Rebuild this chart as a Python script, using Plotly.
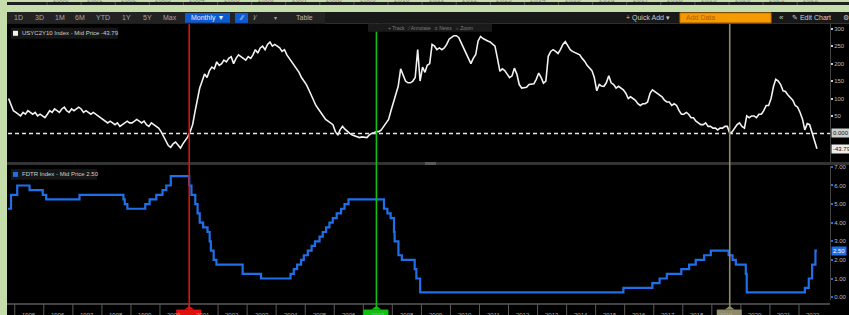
import plotly.graph_objects as go
import pandas as pd

# ------------------------------------------------------------------ data
# USYC2Y10 Index (2s10s curve, bps), monthly from Oct 1994 to Aug 2022
yc_start = "1994-10-01"
yc_bps = [
    100, 80, 65,                                                   # 1994 (Oct-Dec)
    60, 55, 50, 60, 55, 65, 60, 55, 60, 50, 55, 50,                # 1995
    45, 55, 65, 60, 70, 65, 60, 70, 75, 65, 60, 70,                # 1996
    65, 70, 75, 70, 60, 65, 60, 55, 60, 55, 50, 45,                # 1997
    40, 35, 30, 35, 30, 25, 30, 20, 25, 30, 35, 30,                # 1998
    30, 35, 40, 35, 30, 35, 25, 20, 30, 25, 20, 15,                # 1999
    5, -10, -20, -35, -40, -30, -25, -35, -42, -30, -20, -10,      # 2000
    5, 25, 60, 100, 130, 150, 170, 160, 180, 190, 185, 205,        # 2001
    195, 200, 210, 205, 215, 220, 200, 215, 225, 220, 215, 210,    # 2002
    220, 215, 225, 240, 230, 245, 250, 240, 255, 262, 250, 255,    # 2003
    250, 245, 235, 240, 225, 215, 205, 195, 185, 175, 160, 150,    # 2004
    140, 125, 110, 95, 80, 70, 60, 50, 40, 35, 30, 25,             # 2005
    5, -5, 10, 20, 12, 5, 0, -5, -8, -10, -12, -10,                # 2006
    -10, -12, -5, 0, 2, 5, 5, 10, 20, 30, 40, 65,                  # 2007
    90, 110, 135, 185, 165, 150, 145, 145, 150, 160, 240, 150,     # 2008
    190, 175, 195, 200, 255, 250, 240, 245, 240, 245, 255, 270,    # 2009
    275, 280, 280, 275, 260, 245, 235, 220, 200, 215, 226, 265,    # 2010
    278, 272, 268, 265, 262, 255, 250, 215, 178, 185, 180, 170,    # 2011
    160, 165, 187, 170, 140, 130, 130, 132, 140, 142, 142, 155,    # 2012
    173, 160, 144, 150, 221, 235, 240, 235, 229, 240, 255, 263,    # 2013
    250, 240, 235, 232, 229, 225, 215, 207, 195, 187, 180, 160,    # 2014
    122, 140, 136, 135, 145, 165, 145, 140, 130, 135, 130, 125,    # 2015
    115, 100, 105, 100, 95, 85, 80, 85, 85, 90, 115, 125,          # 2016
    120, 115, 110, 105, 95, 90, 90, 80, 85, 80, 65, 55,            # 2017
    55, 60, 55, 45, 45, 35, 30, 25, 25, 30, 20, 20,                # 2018
    15, 15, 10, 15, 15, 20, 20, 0, 5, 15, 25, 30,                  # 2019
    20, 15, 50, 45, 50, 50, 45, 55, 55, 65, 80, 80,                # 2020
    100, 135, 155, 150, 140, 122, 120, 110, 102, 95, 80, 75,       # 2021
    60, 40, 10, 28, 25, 0, -25, -43.79,                            # 2022 (Jan-Aug)
]

# FDTR Index (Fed funds target rate, %), level after each change
fdtr_dates = [
    "1994-10-01", "1994-11-15", "1995-02-01", "1995-07-06", "1995-12-19",
    "1996-01-31", "1997-03-25", "1998-09-29", "1998-10-15", "1998-11-17",
    "1999-06-30", "1999-08-24", "1999-11-16", "2000-02-02", "2000-03-21",
    "2000-05-16", "2001-01-03", "2001-01-31", "2001-03-20", "2001-04-18",
    "2001-05-15", "2001-06-27", "2001-08-21", "2001-09-17", "2001-10-02",
    "2001-11-06", "2001-12-11", "2002-11-06", "2003-06-25", "2004-06-30",
    "2004-08-10", "2004-09-21", "2004-11-10", "2004-12-14", "2005-02-02",
    "2005-03-22", "2005-05-03", "2005-06-30", "2005-08-09", "2005-09-20",
    "2005-11-01", "2005-12-13", "2006-01-31", "2006-03-28", "2006-05-10",
    "2006-06-29", "2007-09-18", "2007-10-31", "2007-12-11", "2008-01-22",
    "2008-01-30", "2008-03-18", "2008-04-30", "2008-10-08", "2008-10-29",
    "2008-12-16", "2015-12-16", "2016-12-14", "2017-03-15", "2017-06-14",
    "2017-12-13", "2018-03-21", "2018-06-13", "2018-09-26", "2018-12-19",
    "2019-07-31", "2019-09-18", "2019-10-30", "2020-03-03", "2020-03-15",
    "2022-03-16", "2022-05-04", "2022-06-15", "2022-07-27", "2022-08-15",
]
fdtr_rate = [
    4.75, 5.50, 6.00, 5.75, 5.50,
    5.25, 5.50, 5.25, 5.00, 4.75,
    5.00, 5.25, 5.50, 5.75, 6.00,
    6.50, 6.00, 5.50, 5.00, 4.50,
    4.00, 3.75, 3.50, 3.00, 2.50,
    2.00, 1.75, 1.25, 1.00, 1.25,
    1.50, 1.75, 2.00, 2.25, 2.50,
    2.75, 3.00, 3.25, 3.50, 3.75,
    4.00, 4.25, 4.50, 4.75, 5.00,
    5.25, 4.75, 4.50, 4.25, 3.50,
    3.00, 2.25, 2.00, 1.50, 1.00,
    0.25, 0.50, 0.75, 1.00, 1.25,
    1.50, 1.75, 2.00, 2.25, 2.50,
    2.25, 2.00, 1.75, 1.25, 0.25,
    0.50, 1.00, 1.75, 2.50, 2.50,
]

event_dates = ["2001-01-03", "2007-06-15", "2019-08-14"]
axis_years = list(range(1995, 2023))
top_strip_years = list(range(2000, 2023))
yc_ticks = [50, 100, 150, 200, 250, 300]
fdtr_ticks = [0, 1, 2, 3, 4, 5, 6, 7]
yc_last = yc_bps[-1]
fdtr_last = fdtr_rate[-1]

yc_legend = "USYC2Y10 Index - Mid Price %.2f" % yc_last
fdtr_legend = "FDTR Index - Mid Price %.2f" % fdtr_last
toolbar_left = ["1D", "3D", "1M", "6M", "YTD", "1Y", "5Y", "Max"]

# ------------------------------------------------------------------ layout helpers
W, H = 849, 315


def X(p):
    return p / W


def Y(p):
    return 1 - p / H


FONT = "Liberation Sans, Arial, sans-serif"
BLUE = "#1f6fe8"
event_colors = ["#e01010", "#12c012", "#8f8b68"]

yc_dates = pd.date_range(yc_start, periods=len(yc_bps), freq="MS") + pd.Timedelta(days=14)

fig = go.Figure()
fig.add_trace(go.Scatter(x=yc_dates, y=yc_bps, mode="lines",
                         line=dict(color="#f2f2f2", width=1.6),
                         xaxis="x", yaxis="y", hoverinfo="skip"))
fig.add_trace(go.Scatter(x=pd.to_datetime(fdtr_dates), y=fdtr_rate, mode="lines",
                         line=dict(color=BLUE, width=2.2, shape="hv"),
                         xaxis="x", yaxis="y2", hoverinfo="skip"))

shapes = []
ann = []


def rect(x0, y0, x1, y1, fill, line=None, layer="below"):
    shapes.append(dict(type="rect", xref="paper", yref="paper",
                       x0=X(x0), x1=X(x1), y0=Y(y1), y1=Y(y0),
                       fillcolor=fill, line=dict(width=0 if line is None else 1,
                                                 color=line or fill), layer=layer))


def text(x, y, t, size=7, color="#b8b8b8", xanchor="center", **kw):
    ann.append(dict(xref="paper", yref="paper", x=X(x), y=Y(y), text=t,
                    showarrow=False, xanchor=xanchor, yanchor="middle",
                    font=dict(family=FONT, size=size, color=color), **kw))


# backgrounds
rect(7, 0, 849, 3, "#1e1e1e")
rect(7, 10, 849, 22, "#181818")
rect(7, 10, 325, 22, "#222222")
rect(7, 22, 849, 315, "#000000")

# top strip (cut-off chart above): separators and year tops
for i, yr in enumerate(top_strip_years):
    cx = 61 + i * 34.1
    if cx > 845:
        break
    shapes.append(dict(type="line", xref="paper", yref="paper", x0=X(cx - 14), x1=X(cx - 14),
                       y0=Y(3), y1=1, line=dict(color="#555", width=1)))
    ann.append(dict(xref="paper", yref="paper", x=X(cx), y=Y(3.5), text=str(yr), showarrow=False,
                    xanchor="center", yanchor="bottom", font=dict(family=FONT, size=7, color="#888")))

# toolbar
tb_x = [18, 39, 60, 80, 103, 126, 147, 170]
for lab, xx in zip(toolbar_left, tb_x):
    text(xx, 16, lab, size=7, color="#a8a8a8")
rect(185, 11, 230, 21, "#0b5bd3")
text(207, 16, "Monthly ▼", size=7, color="#e8eefc")
rect(235, 11, 248, 21, "#0b5bd3")
text(241.5, 16, "⁄∕", size=7, color="#dfe8ff")
text(256, 16, "l⁄", size=7, color="#a8a8a8")
text(275, 16, "▾", size=6, color="#a8a8a8")
text(304, 16, "Table", size=7, color="#b8b8b8")
text(648, 16, "+ Quick Add ▾", size=7, color="#c8c8c8")
rect(680, 11, 771, 21, "#f59b00", line="#c87400")
text(684, 16, "Add Data", size=7, color="#b35a00", xanchor="left")
text(781, 16, "«", size=8, color="#c8c8c8")
text(790, 16, "✎ Edit Chart", size=7, color="#d0d0d0", xanchor="left")
text(846, 16, "⚙", size=7, color="#c8c8c8")

# panel separator and axis borders
rect(7, 161, 849, 164, "#333333")
rect(425, 161, 436, 164, "#5a5a5a")
shapes.append(dict(type="line", xref="paper", yref="paper", x0=X(7), x1=X(830),
                   y0=Y(304), y1=Y(304), line=dict(color="#5a5a5a", width=1.5)))
for yr in axis_years:
    shapes.append(dict(type="line", xref="x", yref="paper", x0="%d-01-01" % yr, x1="%d-01-01" % yr,
                       y0=Y(304), y1=0, line=dict(color="#5a5a5a", width=1)))
    ann.append(dict(xref="x", yref="paper", x="%d-07-01" % yr, y=Y(309.5), text=str(yr),
                    showarrow=False, xanchor="center", yanchor="top",
                    font=dict(family=FONT, size=6, color="#a8a8a8")))

# zero dashed line
shapes.append(dict(type="line", xref="paper", yref="y", x0=X(8), x1=X(830), y0=0, y1=0,
                   line=dict(color="#e6e6e6", width=1.5, dash="4px,3px"), layer="above"))

# event lines with flag markers on the date axis
for d, c in zip(event_dates, event_colors):
    shapes.append(dict(type="line", xref="x", yref="paper", x0=d, x1=d, y0=Y(309), y1=Y(22),
                       line=dict(color=c, width=1.6), layer="above"))
    shapes.append(dict(type="rect", xref="x", yref="paper", xsizemode="pixel", xanchor=d,
                       x0=-13, x1=12, y0=0, y1=Y(309.5), fillcolor=c, line=dict(width=0),
                       layer="above"))
    shapes.append(dict(type="path", xref="x", yref="paper", xsizemode="pixel", xanchor=d,
                       path="M -5,%f L 0,%f L 5,%f Z" % (Y(309.5), Y(306), Y(309.5)),
                       fillcolor=c, line=dict(width=0), layer="above"))

# legends
rect(11, 26, 118, 37, "#161616", layer="above")
rect(13, 29, 18, 34, "#f0f0f0", layer="above")
text(20, 31.5, yc_legend, size=6, color="#cfcfcf", xanchor="left")
rect(11, 168, 97, 179, "#161616", layer="above")
rect(13, 171, 18, 176, BLUE, layer="above")
text(20, 173.5, fdtr_legend, size=6, color="#cfcfcf", xanchor="left")

# track/annotate box
rect(368, 22, 492, 30, "#1a1a1a", layer="above")
text(430, 26, "+ Track   ⁄ Annotate   ≡ News   ⌕ Zoom", size=5, color="#7a7a7a")

# last-value boxes on right axis
ann.append(dict(xref="paper", yref="y", x=X(831), y=0, text="0.000", showarrow=False,
                xanchor="left", yanchor="middle", bgcolor="#cfcfcf", borderpad=1,
                font=dict(family=FONT, size=6, color="#111111")))
ann.append(dict(xref="paper", yref="y", x=X(831), y=yc_last, text="%.2f" % yc_last, showarrow=False,
                xanchor="left", yanchor="middle", bgcolor="#ececec", borderpad=1,
                font=dict(family=FONT, size=6, color="#111111")))
ann.append(dict(xref="paper", yref="y2", x=X(831), y=fdtr_last, text="%.2f" % fdtr_last,
                showarrow=False, xanchor="left", yanchor="middle", bgcolor=BLUE, borderpad=1,
                font=dict(family=FONT, size=6, color="#ffffff")))

fig.update_layout(
    width=W, height=H, autosize=False,
    margin=dict(l=0, r=0, t=0, b=0, pad=0),
    paper_bgcolor="#c5dcab", plot_bgcolor="#000000",
    showlegend=False,
    shapes=shapes, annotations=ann,
    xaxis=dict(domain=[X(8), X(830)], type="date", range=["1994-10-08", "2023-01-26"],
               anchor="y2", showticklabels=False, showgrid=False, zeroline=False,
               showline=False, ticks=""),
    yaxis=dict(domain=[Y(161), Y(22)], range=[-82, 314], side="right", anchor="x",
               tickvals=yc_ticks, ticktext=[str(v) for v in yc_ticks],
               ticks="outside", ticklen=2, tickwidth=2, tickcolor="#cfcfcf",
               tickfont=dict(family=FONT, size=6, color="#bdbdbd"),
               showgrid=False, zeroline=False, showline=True, linecolor="#444", linewidth=1),
    yaxis2=dict(domain=[Y(300), Y(165)], range=[-0.16, 7.05], side="right", anchor="x",
                tickvals=fdtr_ticks, ticktext=["%.2f" % v for v in fdtr_ticks],
                ticks="outside", ticklen=2, tickwidth=2, tickcolor=BLUE,
                tickfont=dict(family=FONT, size=6, color="#bdbdbd"),
                showgrid=False, zeroline=False, showline=True, linecolor="#444", linewidth=1),
)

fig.write_html("out.html", config={"displayModeBar": False},
               post_script="document.body.style.margin='0';document.body.style.overflow='hidden';")
